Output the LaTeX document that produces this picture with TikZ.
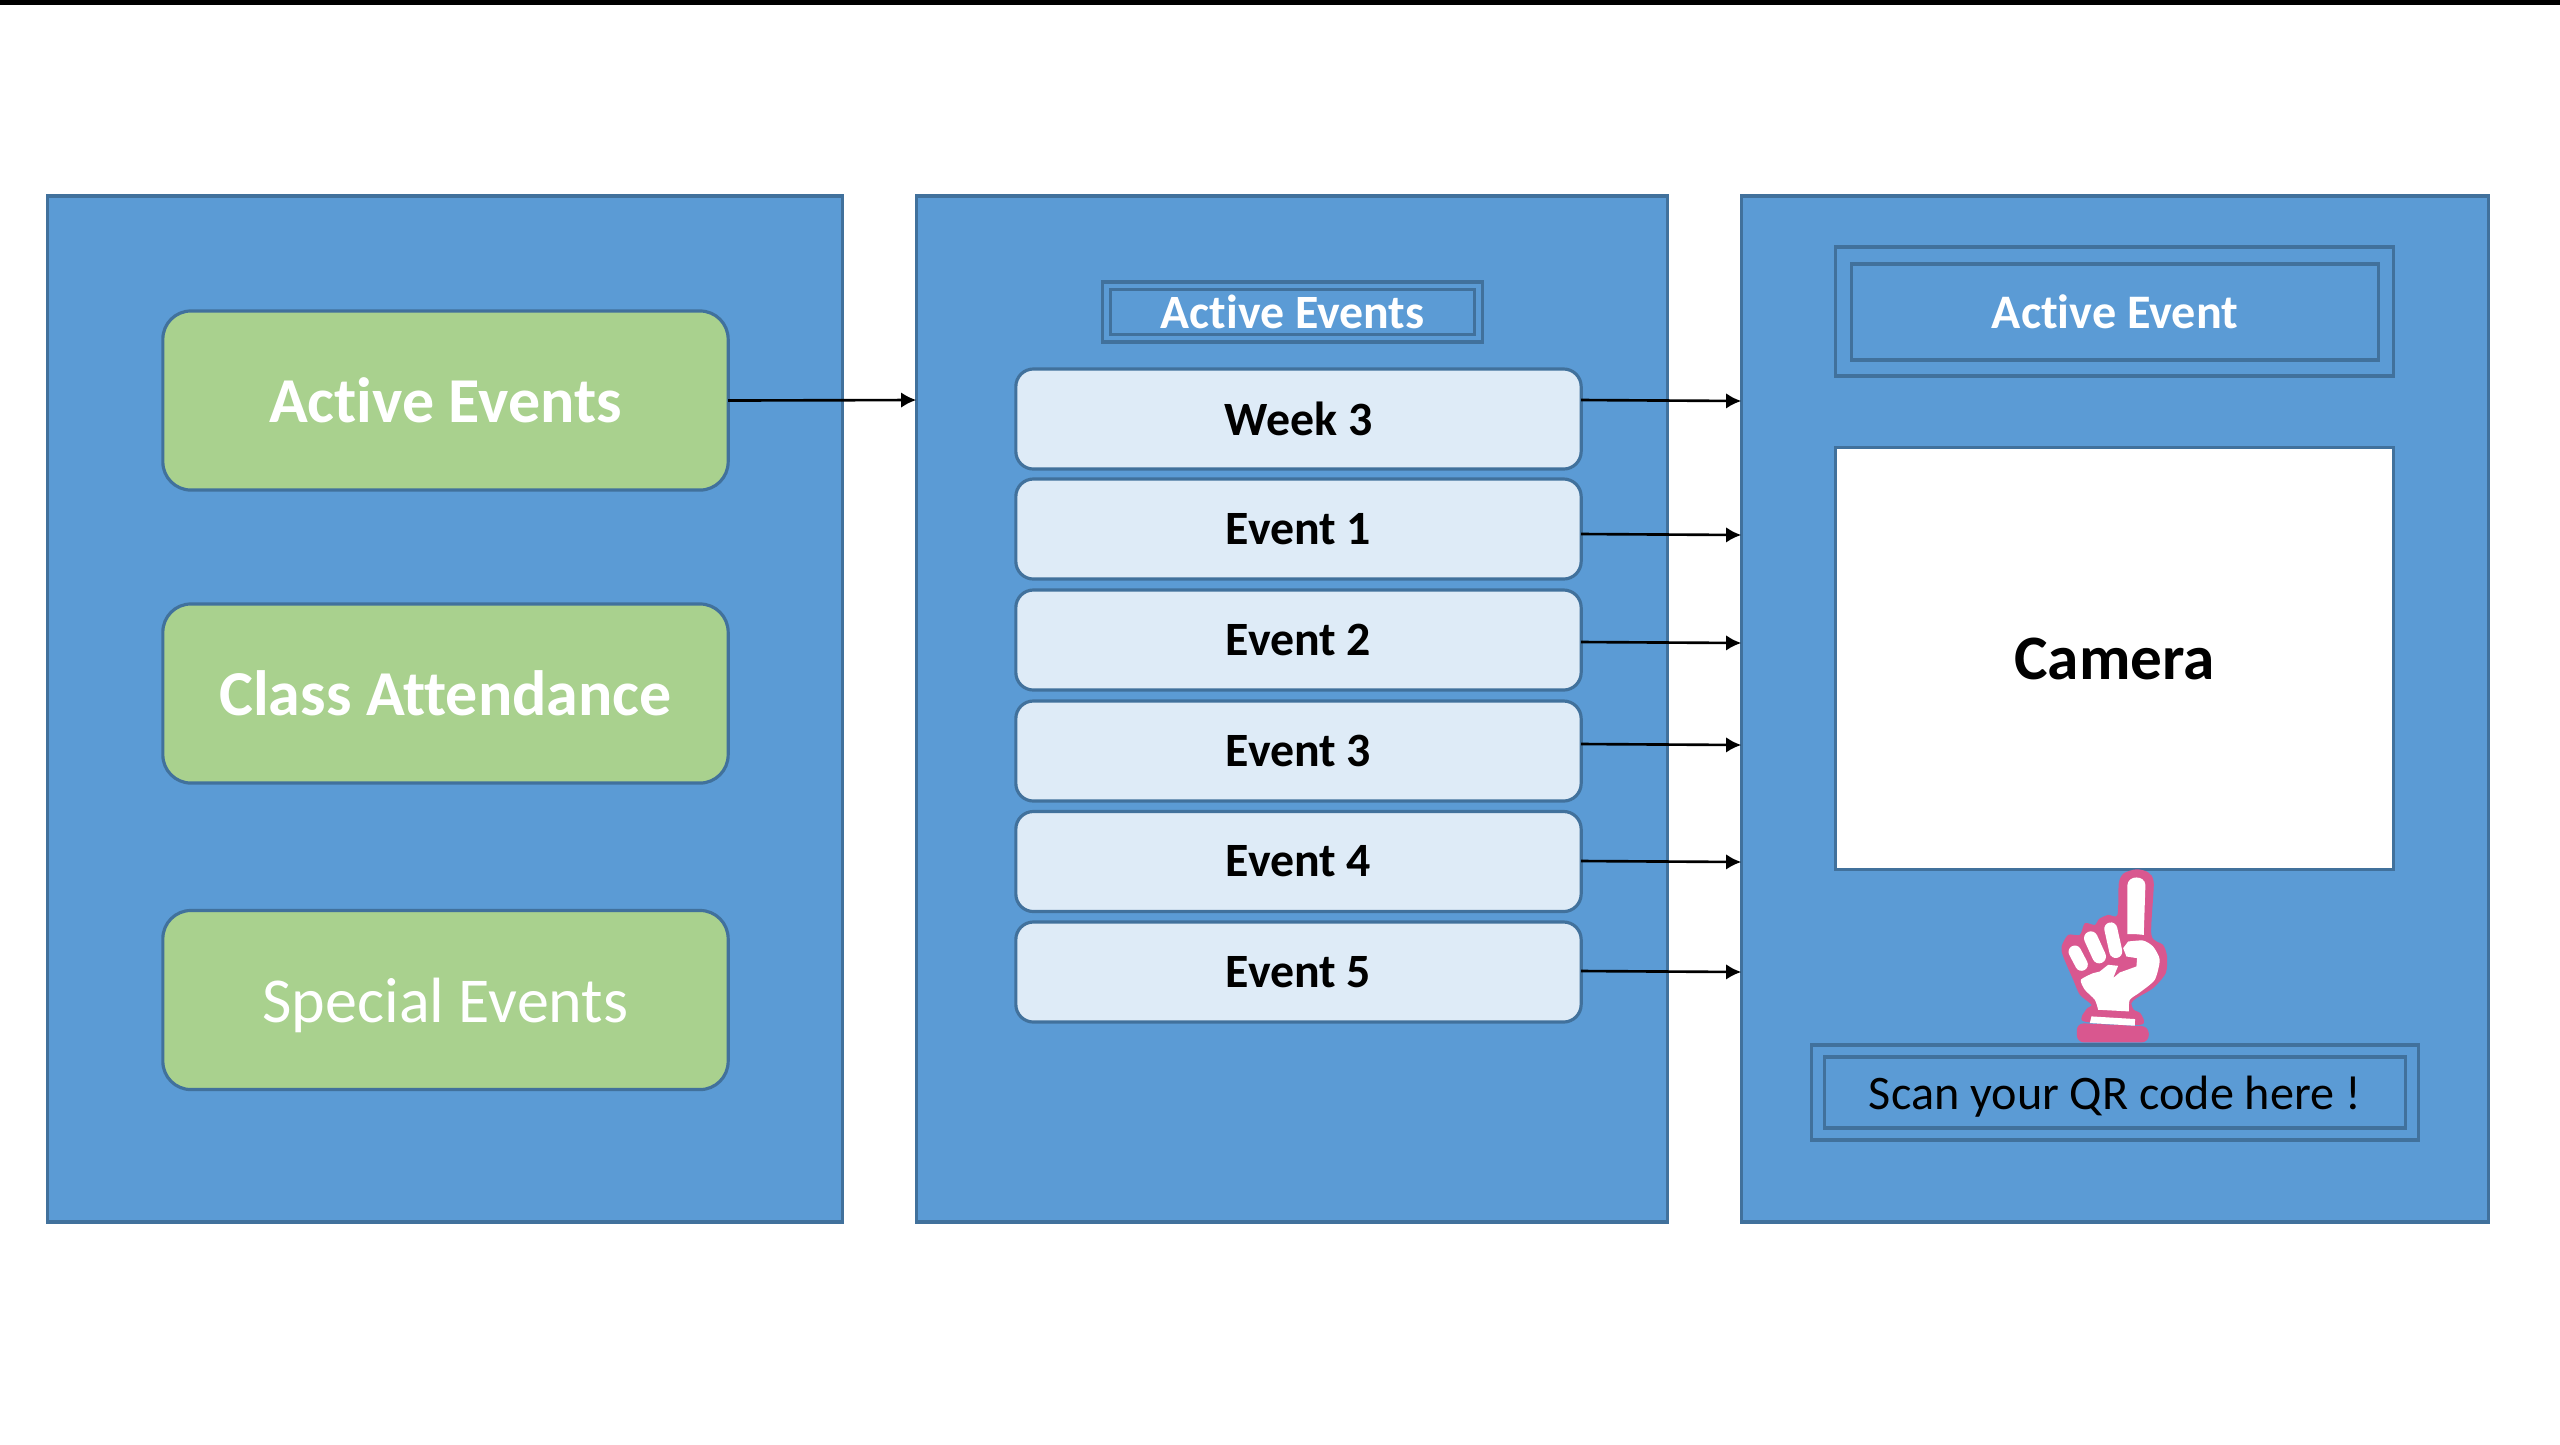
\documentclass[tikz,border=0pt]{standalone}
\usepackage{fontspec}
\setmainfont{Carlito}[Ligatures=NoCommon]
\usetikzlibrary{arrows.meta}
\definecolor{panelblue}{HTML}{5B9BD5}
\definecolor{edgeblue}{HTML}{41719C}
\definecolor{menugreen}{HTML}{A9D18E}
\definecolor{rowblue}{HTML}{DEEBF7}
\definecolor{handpink}{HTML}{D9578F}
\tikzset{
  panel/.style={draw=edgeblue,fill=panelblue,line width=0.9pt,outer sep=0pt,minimum width=#1,minimum height=1026*0.01cm},
  menubox/.style={draw=edgeblue,fill=menugreen,line width=0.9pt,rounded corners=8pt,outer sep=0pt,text depth=0pt,
    minimum width=5.65cm,minimum height=1.79cm,text=white,font=\fontsize{18.2}{22}\selectfont},
  rowbox/.style={draw=edgeblue,fill=rowblue,line width=0.9pt,rounded corners=5pt,outer sep=0pt,
    minimum width=5.65cm,minimum height=1cm,font=\bfseries\fontsize{13.6}{16}\selectfont},
  framebox/.style={draw=edgeblue,line width=0.9pt,outer sep=0pt,inner sep=0pt},
  link/.style={line width=0.75pt,-{Latex[length=4.3pt,width=4.4pt]}}
}
\begin{document}
\begin{tikzpicture}[x=0.01cm,y=-0.01cm]
  \useasboundingbox (0,0) rectangle (2560,1444);
  \fill (0,0) rectangle (2560,4.5);
  % panels
  \node[panel=7.94cm] (panelmenu) at (445,709) {};
  \node[panel=7.51cm] (panellist) at (1292,709) {};
  \node[panel=7.47cm] (panelscan) at (2115,709) {};
  % menu
  \node[menubox,font=\bfseries\fontsize{18.2}{22}\selectfont] (active) at (445.5,400.5) {Active Events};
  \node[menubox,font=\bfseries\fontsize{18.2}{22}\selectfont] (class) at (445.5,693.5) {Class Attendance};
  \node[menubox] (special) at (445.5,1000) {Special Events};
  % list of events
  \node[framebox,minimum width=3.79cm,minimum height=0.60cm] (listouter) at (1292.5,312) {};
  \node[framebox,minimum width=3.64cm,minimum height=0.45cm,text=white,font=\bfseries\fontsize{13.6}{16}\selectfont] (listhead) at (1292.5,312) {Active Events};
  \foreach \nm/\txt/\ypos/\ya/\yb in {wk/Week 3/419/400/401,ea/Event 1/529/534/535,eb/Event 2/640/642/643,
      ec/Event 3/751/744/745,ed/Event 4/861.5/861/862,ee/Event 5/972/971/972} {
    \node[rowbox] (\nm) at (1298.5,\ypos) {\txt};
    \draw[link] (\nm.east |- 0,\ya) -- (panelscan.west |- 0,\yb);
  }
  \draw[link] (active.east) -- (panellist.west |- 0,400);
  % scan panel
  \node[framebox,minimum width=5.57cm,minimum height=1.29cm] (scanouter) at (2114.5,311.5) {};
  \node[framebox,minimum width=5.26cm,minimum height=0.96cm,text=white,font=\bfseries\fontsize{13.7}{16}\selectfont] (scanhead) at (2115,312) {Active Event};
  \node[draw=edgeblue,fill=white,line width=0.9pt,minimum width=5.57cm,minimum height=4.21cm,font=\bfseries\fontsize{18}{22}\selectfont] (camera) at (2114.5,658.5) {Camera};
  \node[framebox,minimum width=6.07cm,minimum height=0.95cm] (qrouter) at (2115,1092.5) {};
  \node[framebox,minimum width=5.81cm,minimum height=0.71cm,text depth=0pt,font=\fontsize{13.7}{16}\selectfont] (qrtext) at (2115,1092.5) {Scan your QR code here !};
  % pointing hand
  \begin{scope}[shift={(1980,840)},x=0.00333cm,y=-0.00333cm]
    \fill[handpink] plot[smooth cycle,tension=0.45] coordinates {(483,555) (483,522) (462,510) (455,490) (470,475) (520,445)
      (558,400) (562,350) (550,315) (515,285) (522,130) (505,97) (470,88) (432,100) (417,130) (413,225) (385,225) (358,237)
      (345,255) (315,250) (300,285) (265,285) (245,320) (250,350) (280,420) (300,465) (335,495) (320,508) (312,545)};
    \fill[handpink,rounded corners=2pt] (291,608) -- (291,550) -- (507,560) -- (507,608) -- cycle;
    \fill[white] (443,283) -- (443,135) .. controls (445,105) and (495,105) .. (497,135) -- (492,285) -- (470,283) -- cycle;
    \fill[white] plot[smooth,tension=0.4] coordinates {(445,305) (490,302) (520,320) (540,360) (525,420) (480,458) (450,480) (447,515)}
      -- plot[smooth,tension=0.4] coordinates {(355,510) (345,480) (315,450) (303,420) (340,400)} -- (360,395) -- (385,375) -- (415,378)
      -- (400,415) -- (420,398) -- (470,380) -- (472,355) -- (440,350) -- (430,325) -- cycle;
    \draw[white,line width=3.6pt,line cap=round] (285,336) -- (305,374);
    \draw[white,line width=3.9pt,line cap=round] (333,295) -- (358,350);
    \draw[white,line width=3.7pt,line cap=round] (393,267) -- (408,335);
    \fill[white] (335,530) -- (466,538) -- (465,558) -- (330,550) -- cycle;
  \end{scope}
\end{tikzpicture}
\end{document}
